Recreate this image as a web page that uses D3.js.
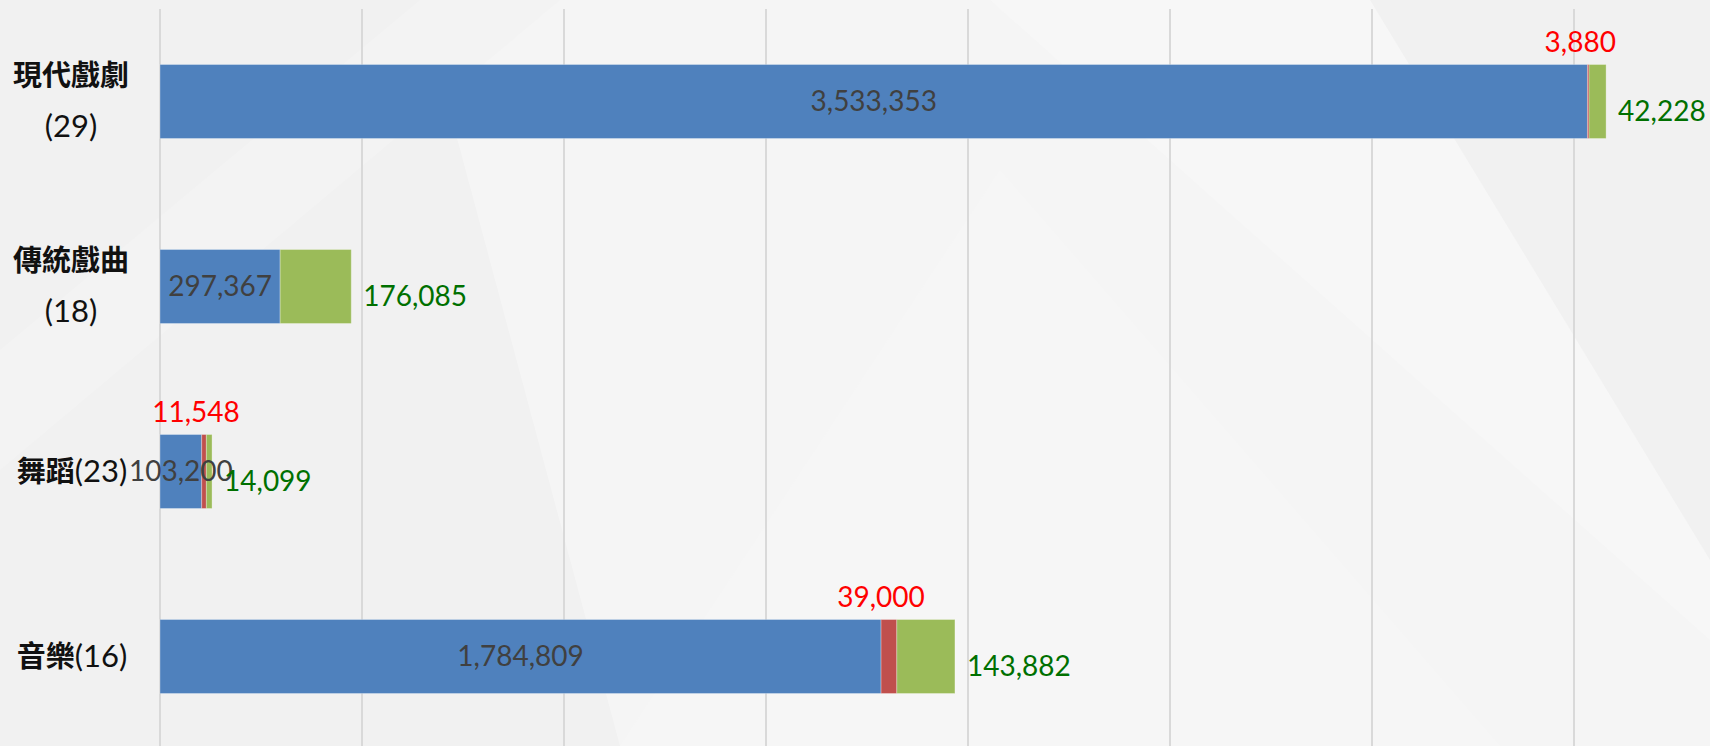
<!DOCTYPE html>
<html>
<head>
<meta charset="utf-8">
<script src="https://cdn.jsdelivr.net/npm/d3@7"></script>
<style>
  body { margin: 0; background: #f2f2f2; }
  svg { display: block; }
  .num { font-family: Lato, "Noto Sans CJK TC", sans-serif; }
  .cat { font-family: Lato, "Noto Sans CJK TC", sans-serif; fill: #111; }
</style>
</head>
<body>
<div id="chart"></div>
<script>
// categories (performance type) and number of groups
const categories = ['現代戲劇', '傳統戲曲', '舞蹈', '音樂'];
const groupCounts = [29, 18, 23, 16];

// stacked series values
const blueValues = [3533353, 297367, 103200, 1784809];
const redValues = [3880, 0, 11548, 39000];
const greenValues = [42228, 176085, 14099, 143882];

const gridTicks = [0, 500000, 1000000, 1500000, 2000000, 2500000, 3000000, 3500000];

const width = 1710, height = 746;
const colors = { blue: '#4f81bd', red: '#c0504d', green: '#9bbb59' };
const labelColors = { blue: '#404040', red: '#ff0000', green: '#007000' };

const rows = categories.map((c, i) => ({
    cat: c, count: groupCounts[i],
    blue: blueValues[i], red: redValues[i], green: greenValues[i]
}));

const svg = d3.select('#chart').append('svg')
    .attr('width', width)
    .attr('height', height);

// faint background shapes
const bg = svg.append('g');
bg.append('rect').attr('width', width).attr('height', height).attr('fill', '#f1f1f1');
bg.append('path').attr('d', 'M420,0 L990,0 L1710,600 L1710,746 L620,746 Z').attr('fill', '#f5f5f5');
bg.append('path').attr('d', 'M0,350 L420,0 L560,0 L0,470 Z').attr('fill', '#f3f3f3');
bg.append('path').attr('d', 'M990,0 L1370,0 L1710,560 L1710,640 Z').attr('fill', '#f7f7f7');
bg.append('path').attr('d', 'M620,746 L1000,170 L1500,746 Z').attr('fill', '#f6f6f6');

const x = d3.scaleLinear()
    .domain([0, 3500000])
    .range([160, 1574]);

const y = d3.scaleBand()
    .domain(categories)
    .range([9, 749])
    .paddingInner(0.6)
    .paddingOuter(0.3);

// vertical gridlines
svg.append('g')
    .selectAll('line')
    .data(gridTicks)
    .join('line')
    .attr('x1', d => x(d))
    .attr('x2', d => x(d))
    .attr('y1', 9)
    .attr('y2', height)
    .attr('stroke', '#d9d9d9')
    .attr('stroke-width', 2);

const keys = ['blue', 'red', 'green'];
const stacked = d3.stack().keys(keys)(rows);

const bars = svg.append('g');
stacked.forEach(layer => {
    bars.append('g')
        .selectAll('rect')
        .data(layer.filter(d => d[1] > d[0]))
        .join('rect')
        .attr('x', d => x(d[0]))
        .attr('y', d => y(d.data.cat))
        .attr('width', d => x(d[1]) - x(d[0]))
        .attr('height', y.bandwidth())
        .attr('fill', colors[layer.key])
        .attr('stroke', 'rgba(255,255,255,0.3)')
        .attr('stroke-width', 1);
});

const labels = svg.append('g').attr('class', 'num').style('font-size', '28px');

// blue labels, centred in segment
labels.append('g')
    .selectAll('text')
    .data(stacked[0])
    .join('text')
    .attr('x', d => (x(d[0]) + x(d[1])) / 2)
    .attr('y', d => y(d.data.cat) + y.bandwidth() / 2)
    .attr('dy', '0.35em')
    .attr('text-anchor', 'middle')
    .attr('fill', labelColors.blue)
    .text(d => d3.format(',')(d[1] - d[0]));

// red labels, above the bar
labels.append('g')
    .selectAll('text')
    .data(stacked[1].filter(d => d[1] > d[0]))
    .join('text')
    .attr('x', d => (x(d[0]) + x(d[1])) / 2 - 8)
    .attr('y', d => y(d.data.cat) - 22)
    .attr('dy', '0.35em')
    .attr('text-anchor', 'middle')
    .attr('fill', labelColors.red)
    .text(d => d3.format(',')(d[1] - d[0]));

// green labels, right of the bar
labels.append('g')
    .selectAll('text')
    .data(stacked[2])
    .join('text')
    .attr('x', d => x(d[1]) + 12)
    .attr('y', d => y(d.data.cat) + y.bandwidth() / 2 + 10)
    .attr('dy', '0.35em')
    .attr('text-anchor', 'start')
    .attr('fill', labelColors.green)
    .text(d => d3.format(',')(d[1] - d[0]));

// category labels (long names wrap onto two lines)
const catG = svg.append('g').attr('class', 'cat').style('font-size', '29px');
rows.forEach(r => {
    const cy = y(r.cat) + y.bandwidth() / 2;
    if (r.cat.length > 2) {
        catG.append('text')
            .attr('x', 71).attr('y', cy - 26).attr('dy', '0.35em')
            .attr('text-anchor', 'middle')
            .style('font-weight', 'bold')
            .text(r.cat);
        catG.append('text')
            .attr('x', 71).attr('y', cy + 25).attr('dy', '0.35em')
            .attr('text-anchor', 'middle')
            .style('font-size', '31px')
            .text(`(${r.count})`);
    } else {
        const t = catG.append('text')
            .attr('x', 72).attr('y', cy).attr('dy', '0.35em')
            .attr('text-anchor', 'middle');
        t.append('tspan').style('font-weight', 'bold').text(r.cat);
        t.append('tspan').style('font-size', '31px').text(`(${r.count})`);
    }
});
</script>
</body>
</html>
